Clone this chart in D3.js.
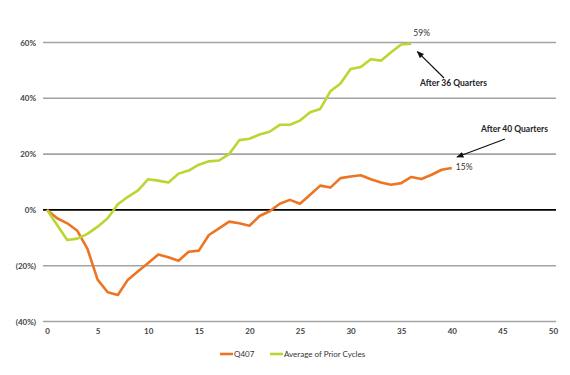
<!DOCTYPE html>
<html>
<head>
<meta charset="utf-8">
<script src="https://cdn.jsdelivr.net/npm/d3@7"></script>
<style>
  body { margin: 0; background: #fff; }
  svg text { font-family: Lato, "Open Sans", sans-serif; }
</style>
</head>
<body>
<div id="chart"></div>
<script>
// quarters after the peak, cumulative change in %
const q407 = [0, -3, -4.8, -7.5, -14, -25, -29.5, -30.5, -25, -22, -19, -16, -17, -18.2, -15, -14.6,
    -9, -6.6, -4.2, -4.8, -5.7, -2.2, -0.5, 2.2, 3.6, 2.2, 5.4, 8.7, 8, 11.4, 12, 12.4, 11, 9.8, 9,
    9.6, 11.8, 11.1, 12.6, 14.4, 15];
const priorAvg = [0, -5.4, -10.8, -10.3, -8.6, -6, -3, 2, 4.7, 7, 11, 10.5, 9.8, 13, 14.1, 16.2,
    17.4, 17.7, 20, 25, 25.5, 27, 28, 30.5, 30.5, 32, 35, 36.2, 42.5, 45.3, 50.5, 51.2, 54, 53.5,
    56.5, 59.3, 59.6];
const yTicks = [-40, -20, 0, 20, 40, 60];
const xTicks = [0, 5, 10, 15, 20, 25, 30, 35, 40, 45, 50];
const seriesNames = ["Q407", "Average of Prior Cycles"];
const colors = ["#EC7524", "#BBD631"];

const width = 570, height = 375;

const svg = d3.select("#chart").append("svg")
    .attr("width", width)
    .attr("height", height);

const x = d3.scaleLinear().domain([0, 50]).range([47, 553]);
const y = d3.scaleLinear().domain([-40, 60]).range([321.5, 42.5]);

const fmt = v => v < 0 ? `(${-v}%)` : `${v}%`;

// gridlines
svg.append("g")
    .selectAll("line")
    .data(yTicks)
    .enter().append("line")
    .attr("x1", 43)
    .attr("x2", 556)
    .attr("y1", d => y(d))
    .attr("y2", d => y(d))
    .attr("stroke", d => d === 0 ? "#000" : "#a3a3a3")
    .attr("stroke-width", 1.6);

// y axis labels
const yAxis = svg.append("g")
    .attr("transform", "translate(36,0)")
    .call(d3.axisLeft(y).tickValues(yTicks).tickFormat(fmt).tickSize(0).tickPadding(0));
yAxis.select(".domain").remove();
yAxis.selectAll("text")
    .attr("font-size", 8)
    .attr("font-weight", "bold")
    .attr("fill", "#444");

// x axis labels
const xAxis = svg.append("g")
    .attr("transform", "translate(0,328)")
    .call(d3.axisBottom(x).tickValues(xTicks).tickSize(0).tickPadding(0));
xAxis.select(".domain").remove();
xAxis.selectAll("text")
    .attr("font-size", 8)
    .attr("font-weight", "bold")
    .attr("fill", "#444");

// lines
const line = d3.line()
    .x((d, i) => x(i))
    .y(d => y(d));

[q407, priorAvg].forEach((s, i) => {
    svg.append("path")
        .datum(s)
        .attr("fill", "none")
        .attr("stroke", colors[i])
        .attr("stroke-width", 2.6)
        .attr("stroke-linejoin", "round")
        .attr("d", line);
});

// annotations
svg.append("defs").append("marker")
    .attr("id", "arrow")
    .attr("viewBox", "0 0 10 10")
    .attr("refX", 9)
    .attr("refY", 5)
    .attr("markerWidth", 6)
    .attr("markerHeight", 6)
    .attr("orient", "auto")
    .append("path")
    .attr("d", "M0,1 L10,5 L0,9 Z")
    .attr("fill", "#111");

const lastG = priorAvg.length - 1;
const lastO = q407.length - 1;

svg.append("text")
    .attr("x", x(lastG) + 2)
    .attr("y", 36)
    .attr("font-size", 8.5)
    .attr("fill", "#333")
    .text("59%");

svg.append("line")
    .attr("x1", 444).attr("y1", 78)
    .attr("x2", x(lastG) + 6).attr("y2", y(priorAvg[lastG]) + 8)
    .attr("stroke", "#111")
    .attr("stroke-width", 1.2)
    .attr("marker-end", "url(#arrow)");

svg.append("text")
    .attr("x", 420)
    .attr("y", 86)
    .attr("font-size", 8.5)
    .attr("font-weight", "bold")
    .attr("fill", "#222")
    .text("After 36 Quarters");

svg.append("text")
    .attr("x", x(lastO) + 4)
    .attr("y", 170)
    .attr("font-size", 8.5)
    .attr("fill", "#333")
    .text("15%");

svg.append("line")
    .attr("x1", 505).attr("y1", 139)
    .attr("x2", 457).attr("y2", 157)
    .attr("stroke", "#111")
    .attr("stroke-width", 1.2)
    .attr("marker-end", "url(#arrow)");

svg.append("text")
    .attr("x", 481)
    .attr("y", 132)
    .attr("font-size", 8.5)
    .attr("font-weight", "bold")
    .attr("fill", "#222")
    .text("After 40 Quarters");

// legend
const legend = svg.append("g").attr("transform", "translate(0,354)");
const legX = [220, 270];
seriesNames.forEach((name, i) => {
    legend.append("line")
        .attr("x1", legX[i]).attr("x2", legX[i] + 13)
        .attr("y1", 0).attr("y2", 0)
        .attr("stroke", colors[i])
        .attr("stroke-width", 2.6);
    legend.append("text")
        .attr("x", legX[i] + 14)
        .attr("y", 3)
        .attr("font-size", 8)
        .attr("fill", "#333")
        .text(name);
});
</script>
</body>
</html>
